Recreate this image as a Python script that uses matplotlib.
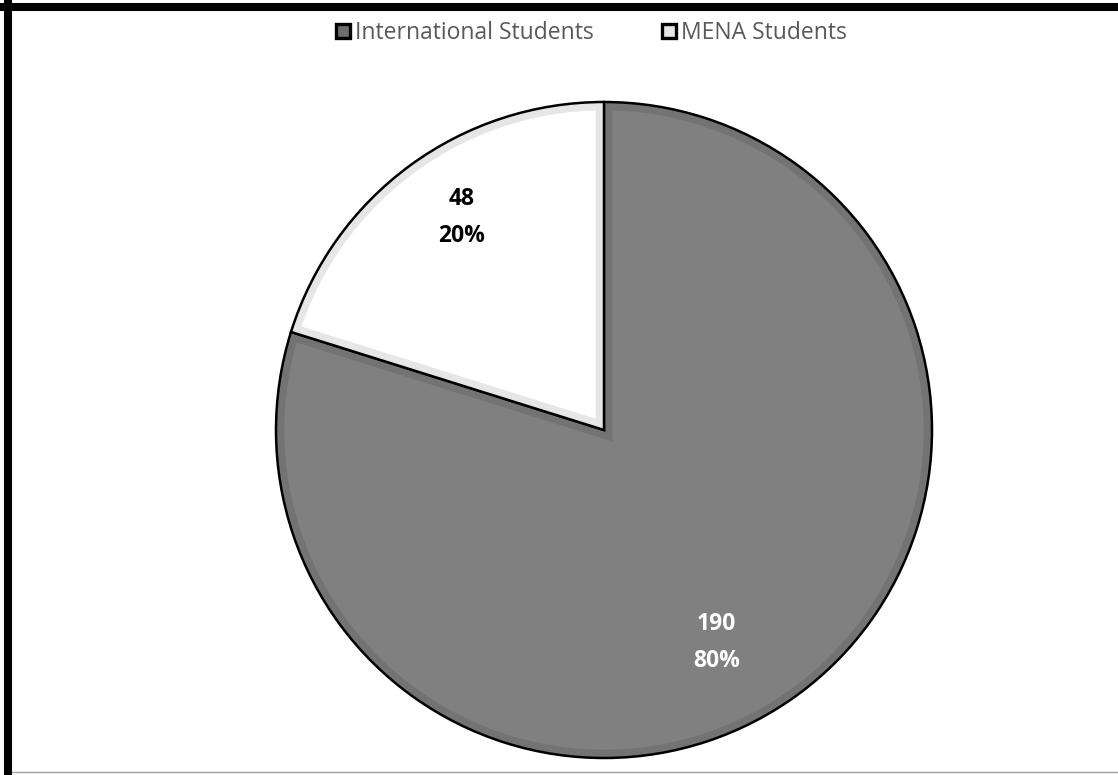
import matplotlib.pyplot as plt
from matplotlib.patches import Patch, PathPatch
from matplotlib.lines import Line2D

plt.rcParams['font.family'] = ['Open Sans', 'DejaVu Sans']

# data
labels = ['International Students', 'MENA Students']
counts = [190, 48]
colors = ['#808080', '#ffffff']
bevel_colors = ['#737373', '#e6e6e6']
text_colors = ['white', 'black']
# where Excel put the data labels (in pie radius units)
label_xy = [(0.343, -0.648), (-0.433, 0.648)]

fig = plt.figure(figsize=(11.18, 7.75), dpi=100)
W, H = 1118, 775
cx, cy, r = 604, 430, 328
pad = 6
ax = fig.add_axes([(cx - r - pad) / W, (H - cy - r - pad) / H,
                   2 * (r + pad) / W, 2 * (r + pad) / H])

total = sum(counts)
wedges, texts, autotexts = ax.pie(
    counts, colors=colors, startangle=90, counterclock=False,
    autopct=lambda p: '{:d}\n{:.0f}%'.format(int(round(p * total / 100)), p),
    radius=1,
    wedgeprops=dict(edgecolor='none', linewidth=0),
    textprops=dict(fontsize=16.5, fontweight='bold', linespacing=1.7))

# inner bevel band + black outline on every slice
for w, bc in zip(wedges, bevel_colors):
    band = PathPatch(w.get_path(), fill=False, edgecolor=bc, linewidth=12,
                     joinstyle='miter', transform=w.get_transform())
    ax.add_patch(band)
    band.set_clip_path(w)
    outline = PathPatch(w.get_path(), fill=False, edgecolor='black',
                        linewidth=1.8, joinstyle='miter',
                        transform=w.get_transform())
    ax.add_patch(outline)

for t, c, xy in zip(autotexts, text_colors, label_xy):
    t.set_color(c)
    t.set_position(xy)

lim = (r + pad) / r
ax.set_xlim(-lim, lim)
ax.set_ylim(-lim, lim)
ax.axis('off')

handles = [Patch(facecolor=c, edgecolor='black', linewidth=2.4)
           for c in ['#6e6e6e', '#e6e6e6']]
leg = fig.legend(handles, labels, loc='center', bbox_to_anchor=(0.529, 1 - 33 / H),
                 ncol=2, frameon=False, fontsize=16.5, handlelength=0.62,
                 handleheight=0.62, handletextpad=0.2, columnspacing=3.0)
for t in leg.get_texts():
    t.set_color('#595959')

# outer frame: top and left black, bottom thin gray
fig.add_artist(Line2D([0, 1], [1 - 6.5 / H, 1 - 6.5 / H], color='black',
                      linewidth=5.8, transform=fig.transFigure))
fig.add_artist(Line2D([8 / W, 8 / W], [0, 1 - 3 / H], color='black',
                      linewidth=5.8, transform=fig.transFigure))
fig.add_artist(Line2D([12 / W, 1], [3.5 / H, 3.5 / H], color='#a0a0a0',
                      linewidth=1, transform=fig.transFigure))

fig.savefig('out.png', dpi=100)
